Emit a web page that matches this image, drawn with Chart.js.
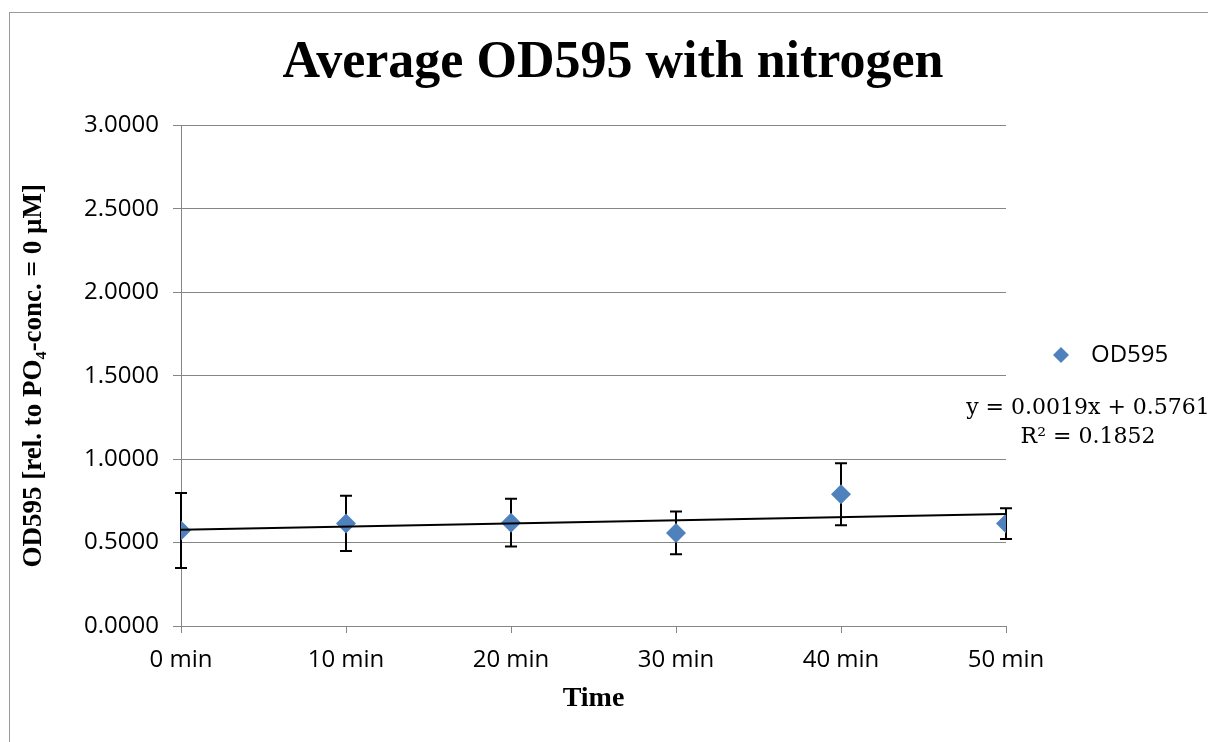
<!DOCTYPE html>
<html>
<head>
<meta charset="utf-8">
<script src="https://cdn.jsdelivr.net/npm/chart.js@4.4.0/dist/chart.umd.min.js"></script>
<style>
  html, body { margin: 0; padding: 0; background: #fff; }
  #wrap { width: 1208px; height: 742px; position: relative; }
</style>
</head>
<body>
<div id="wrap"><canvas id="odChart" width="1208" height="742"></canvas></div>
<script>
// data
const minutes = [0, 10, 20, 30, 40, 50];
const timeLabels = ["0 min", "10 min", "20 min", "30 min", "40 min", "50 min"];
const od595 = [0.572, 0.615, 0.619, 0.558, 0.790, 0.614];
const od595Err = [0.225, 0.165, 0.143, 0.128, 0.186, 0.092];
const yTicks = [0, 0.5, 1.0, 1.5, 2.0, 2.5, 3.0];

// trendline as shown: y = 0.0019x + 0.5761, R² = 0.1852
const trendSlope = 0.0019;
const trendIntercept = 0.5761;
const trendR2 = 0.1852;

const gridGrey = "#868686";
const markerBlue = "#4F81BD";

// error bars under the diamonds
const errorBars = {
  id: "errorBars",
  beforeDatasetsDraw(chart) {
    const { ctx, scales: { x, y } } = chart;
    ctx.save();
    ctx.strokeStyle = "#000";
    ctx.lineWidth = 2;
    minutes.forEach((m, i) => {
      const px = Math.round(x.getPixelForValue(m));
      const top = y.getPixelForValue(od595[i] + od595Err[i]);
      const bot = y.getPixelForValue(od595[i] - od595Err[i]);
      ctx.beginPath();
      ctx.moveTo(px, top);
      ctx.lineTo(px, bot);
      ctx.moveTo(px - 6, top);
      ctx.lineTo(px + 6, top);
      ctx.moveTo(px - 6, bot);
      ctx.lineTo(px + 6, bot);
      ctx.stroke();
    });
    ctx.restore();
  }
};

// outer frame, legend and trendline label
const extras = {
  id: "extras",
  beforeDraw(chart) {
    const ctx = chart.ctx;
    ctx.save();
    ctx.strokeStyle = "#9a9a9a";
    ctx.lineWidth = 1;
    ctx.strokeRect(9.5, 12.5, 1400, 900);
    ctx.restore();
  },
  afterDraw(chart) {
    const ctx = chart.ctx;
    const area = chart.chartArea;
    ctx.save();
    // legend marker
    const lx = area.right + 55, ly = 355;
    ctx.fillStyle = markerBlue;
    ctx.beginPath();
    ctx.moveTo(lx, ly - 8);
    ctx.lineTo(lx + 8, ly);
    ctx.lineTo(lx, ly + 8);
    ctx.lineTo(lx - 8, ly);
    ctx.closePath();
    ctx.fill();
    ctx.fillStyle = "#000";
    ctx.font = "24px 'Open Sans'";
    ctx.textBaseline = "middle";
    ctx.textAlign = "left";
    ctx.fillText("OD595", lx + 30, ly);
    // equation
    ctx.font = "22px 'DejaVu Serif'";
    ctx.textAlign = "center";
    const ex = area.right + 82;
    ctx.fillText("y = " + trendSlope.toFixed(4) + "x + " + trendIntercept.toFixed(4), ex, 408);
    ctx.fillText("R\u00b2 = " + trendR2.toFixed(4), ex, 437);
    ctx.restore();
  }
};

const ctx = document.getElementById("odChart").getContext("2d");
const odChart = new Chart(ctx, {
  type: "scatter",
  data: {
    datasets: [
      {
        label: "Linear (OD595)",
        type: "line",
        data: [
          { x: minutes[0], y: trendIntercept + trendSlope * minutes[0] },
          { x: minutes[minutes.length - 1], y: trendIntercept + trendSlope * minutes[minutes.length - 1] }
        ],
        borderColor: "#000",
        borderWidth: 2,
        pointRadius: 0,
        fill: false,
        order: 0
      },
      {
        label: "OD595",
        data: minutes.map((m, i) => ({ x: m, y: od595[i] })),
        pointStyle: "rectRot",
        pointRadius: 10,
        pointHoverRadius: 10,
        backgroundColor: markerBlue,
        borderColor: markerBlue,
        borderWidth: 0,
        order: 1
      }
    ]
  },
  options: {
    responsive: false,
    animation: false,
    layout: { padding: { left: 18, right: 0, top: 0, bottom: 0 } },
    plugins: {
      legend: { display: false },
      tooltip: { enabled: false },
      title: {
        display: true,
        text: "Average OD595 with nitrogen",
        color: "#000",
        font: { family: "'Liberation Serif'", size: 52, weight: "bold", lineHeight: 1.2 },
        padding: { top: 32, bottom: 31 }
      }
    },
    scales: {
      x: {
        type: "linear",
        min: 0,
        max: 50,
        afterBuildTicks(scale) {
          scale.ticks = minutes.map(v => ({ value: v }));
        },
        ticks: {
          color: "#000",
          font: { family: "'Open Sans'", size: 24 },
          padding: 13,
          maxRotation: 0,
          callback: (v) => timeLabels[minutes.indexOf(v)]
        },
        grid: { drawOnChartArea: false, color: gridGrey, tickLength: 7 },
        border: { color: gridGrey },
        title: {
          display: true,
          text: "Time",
          color: "#000",
          font: { family: "'Liberation Serif'", size: 28, weight: "bold", lineHeight: 1.2 },
          padding: { top: 0, bottom: 26 }
        },
        afterFit(scale) { scale.height = 116; }
      },
      y: {
        min: 0,
        max: 3,
        afterBuildTicks(scale) {
          scale.ticks = yTicks.map(v => ({ value: v }));
        },
        ticks: {
          color: "#000",
          font: { family: "'Open Sans'", size: 24 },
          padding: 14,
          callback: (v) => v.toFixed(4)
        },
        grid: { color: gridGrey, tickLength: 8 },
        border: { color: gridGrey },
        title: {
          display: true,
          text: "OD595 [rel. to PO\u2084-conc. = 0 \u00b5M]",
          color: "#000",
          font: { family: "'Liberation Serif'", size: 27, weight: "bold", lineHeight: 1.2 },
          padding: { top: 0, bottom: 0 }
        },
        afterFit(scale) { scale.width = 163; }
      },
      // empty right-hand box that keeps room for the legend and equation
      side: {
        position: "right",
        display: true,
        ticks: { display: false },
        grid: { display: false },
        border: { display: false },
        afterFit(scale) { scale.width = 202; }
      }
    }
  },
  plugins: [errorBars, extras]
});
</script>
</body>
</html>
